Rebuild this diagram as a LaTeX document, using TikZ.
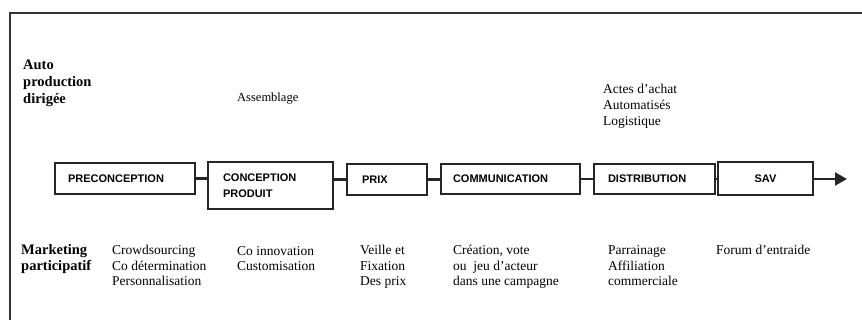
\documentclass[tikz,border=0pt]{standalone}
\usepackage{fontspec}
\setmainfont{Liberation Serif}
\newfontfamily\boxfont{Liberation Sans}
\usetikzlibrary{arrows.meta}
\begin{document}
\begin{tikzpicture}[x=1pt,y=-1pt,
  stepbox/.style={draw=black!85,line width=1.3pt,rectangle,inner sep=0pt,
    font=\boxfont\bfseries\fontsize{11}{16}\selectfont,align=left},
  conn/.style={draw=black!85,line width=2.2pt},
  sidelabel/.style={anchor=base west,inner sep=0pt,align=left,
    font=\bfseries\fontsize{14.5}{17}\selectfont},
  note/.style={anchor=base west,inner sep=0pt,align=left,
    font=\fontsize{13.5}{15.5}\selectfont}]
\useasboundingbox (0,0) rectangle (862,320);
\fill[white] (0,0) rectangle (862,320);
% frame
\coordinate (fl) at (10,320);
\coordinate (fc) at (10,13);
\coordinate (fr) at (862,13);
\draw[black!80,line width=1.8pt] (fl) -- (fc) -- (fr);
% boxes
\node[stepbox,minimum width=140,minimum height=31,text width=114] (pre) at (125,178.5) {PRECONCEPTION};
\node[stepbox,minimum width=125,minimum height=47,text width=95] (con) at (270.5,185.5) {CONCEPTION\\PRODUIT};
\node[stepbox,minimum width=80,minimum height=31,text width=50] (prix) at (387,179.5) {PRIX};
\node[stepbox,minimum width=139,minimum height=30,text width=115] (com) at (510.5,179) {COMMUNICATION};
\node[stepbox,minimum width=121,minimum height=30,text width=93] (dis) at (654.5,179) {DISTRIBUTION};
\node[stepbox,minimum width=95,minimum height=33,align=center] (sav) at (765.5,178.5) {SAV};
\coordinate (end) at (847,179);
% connectors
\draw[conn] (pre.east) -- (pre.east -| con.west);
\draw[conn] (prix.west -| con.east) -- (prix.west);
\draw[conn] (prix.east) -- (prix.east -| com.west);
\draw[conn] (com.east) -- (com.east -| dis.west);
\draw[conn] (dis.east) -- (dis.east -| sav.west);
\draw[conn,-{Triangle[length=12pt,width=13pt]}] (sav.east |- end) -- (end);
% top row (anchor = baseline of last line)
\node[sidelabel] (apd) at (23,104) {Auto\\production\\dirigée};
\node[note,font=\fontsize{12.5}{15.5}\selectfont] (ass) at (237,102) {Assemblage};
\node[note,font=\fontsize{13.5}{16}\selectfont] (act) at (603,126) {Actes d'achat\\Automatisés\\Logistique};
% bottom row
\node[sidelabel,font=\bfseries\fontsize{14.5}{16}\selectfont] (mkp) at (21,271) {Marketing\\participatif};
\node[note] (crowd) at (112,286) {Crowdsourcing\\Co détermination\\Personnalisation};
\node[note] (coin) at (237,271) {Co innovation\\Customisation};
\node[note] (veil) at (360,286) {Veille et\\Fixation\\Des prix};
\node[note] (crea) at (453,286) {Création, vote\\ou \ jeu d'acteur\\dans une campagne};
\node[note] (parr) at (608,286) {Parrainage\\Affiliation\\commerciale};
\node[note] (forum) at (716,255) {Forum d'entraide};
\end{tikzpicture}
\end{document}
